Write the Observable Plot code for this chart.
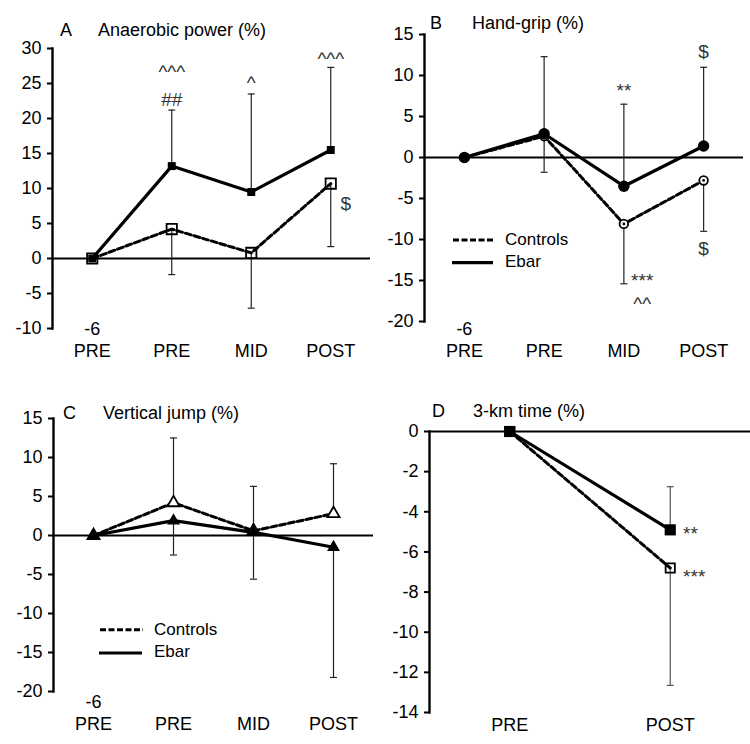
<!DOCTYPE html>
<html><head><meta charset="utf-8">
<script src="https://cdn.jsdelivr.net/npm/d3@7"></script>
<script src="https://cdn.jsdelivr.net/npm/@observablehq/plot@0.6"></script>
<style>
body{margin:0;background:#fff;font-family:"Liberation Sans",Arial,sans-serif;}
#wrap{position:relative;width:750px;height:744px;background:#fff;}
.panel{position:absolute;width:375px;height:372px;}
.panel svg{display:block;}
.overlay{position:absolute;left:0;top:0;pointer-events:none;overflow:visible;}
</style></head><body><div id="wrap"></div>
<script>
// ---------- DATA ----------
const catsFour = ["PRE", "PRE", "MID", "POST"];
const subFour  = ["-6", "", "", ""];
const catsTwo  = ["PRE", "POST"];

// A  Anaerobic power (%)
const powerTicks = [-10, -5, 0, 5, 10, 15, 20, 25, 30];
const powerEbar  = [0, 13.2, 9.5, 15.5];
const powerCtrl  = [0, 4.2, 0.8, 10.7];
const powerErrHi = [null, 21.2, 23.5, 27.3];
const powerErrLo = [null, -2.3, -7.1, 1.7];
const powerNoteText = ["^^^", "##", "^", "^^^", "$"];
const powerNoteX    = [1, 1, 2, 3, 3.19];
const powerNoteY    = [26.6, 22.7, 25.1, 28.5, 7.8];

// B  Hand-grip (%)
const gripTicks = [-20, -15, -10, -5, 0, 5, 10, 15];
const gripEbar  = [0, 2.9, -3.5, 1.4];
const gripCtrl  = [0, 2.6, -8.1, -2.8];
const gripErrHi = [null, 12.3, 6.5, 11.0];
const gripErrLo = [null, -1.8, -15.4, -9.0];
const gripNoteText = ["**", "$", "$", "***", "^^"];
const gripNoteX    = [2, 3, 3, 2.23, 2.23];
const gripNoteY    = [8.1, 12.9, -11.1, -15.1, -17.9];

// C  Vertical jump (%)
const jumpTicks = [-20, -15, -10, -5, 0, 5, 10, 15];
const jumpEbar  = [0, 1.9, 0.4, -1.5];
const jumpCtrl  = [0, 4.2, 0.6, 2.8];
const jumpErrHi = [null, 12.5, 6.3, 9.2];
const jumpErrLo = [null, -2.5, -5.6, -18.2];

// D  3-km time (%)
const timeTicks = [-14, -12, -10, -8, -6, -4, -2, 0];
const timeEbar  = [0, -4.9];
const timeCtrl  = [0, -6.8];
const timeErrHi = [null, -2.75];
const timeErrLo = [null, -12.65];
const timeNoteText = ["**", "***"];
const timeNoteX    = [1.08, 1.08];
const timeNoteY    = [-5.1, -7.22];

// ---------- DRAWING ----------
const FONT = "'Liberation Sans', Arial, sans-serif";
const TICK_FONT = 18, CAT_FONT = 18, TITLE_FONT = 18, LEGEND_FONT = 17, NOTE_FONT = 19;
const capSymbol = {
  draw(ctx, size) {
    const r = Math.sqrt(size / Math.PI);
    ctx.moveTo(-r, 0); ctx.lineTo(r, 0);
  }
};

function makePanel(cfg) {
  const n = cfg.cats.length;
  const idx = d3.range(n);
  const rows = idx.map(i => ({
    i, ebar: cfg.ebar[i], ctrl: cfg.ctrl[i], hi: cfg.errHi[i], lo: cfg.errLo[i],
    top: Math.max(cfg.ebar[i], cfg.ctrl[i]), bot: Math.min(cfg.ebar[i], cfg.ctrl[i])
  }));
  const errRows = rows.filter(d => d.hi != null);
  const ticks = cfg.yTicks;
  const notes = (cfg.noteText || []).map((t, k) => ({t, x: cfg.noteX[k], y: cfg.noteY[k]}));
  const ebarDots = Plot.dot(rows, {x: "i", y: "ebar", symbol: cfg.sym, r: cfg.ebarR, fill: "#000", stroke: "none"});
  const ctrlDots = Plot.dot(rows, {x: "i", y: "ctrl", symbol: cfg.sym, r: cfg.ctrlR, fill: cfg.ctrlFill, stroke: "#000", strokeWidth: 1.8});
  const marks = [
    Plot.ruleY([0], {stroke: "#000", strokeWidth: 2}),
    Plot.frame({anchor: "left", stroke: "#000", strokeWidth: 2.4}),
    Plot.axisY(ticks, {tickSize: 5, tickPadding: 6, fontSize: TICK_FONT, strokeWidth: 2, label: null, fill: "#000", tickFormat: d => String(d)}),
    Plot.axisX(idx, {tickFormat: i => cfg.cats[i], tickSize: 0, tickPadding: cfg.catPad, fontSize: CAT_FONT, label: null, fill: "#000"}),
    Plot.ruleX(errRows, {x: "i", y1: "top", y2: "hi", stroke: cfg.errColor, strokeWidth: 1.2}),
    Plot.ruleX(errRows, {x: "i", y1: "bot", y2: "lo", stroke: cfg.errColor, strokeWidth: 1.2}),
    Plot.dot(errRows, {x: "i", y: "hi", symbol: capSymbol, r: 3.5, stroke: cfg.errColor, strokeWidth: 1.2, fill: "none"}),
    Plot.dot(errRows, {x: "i", y: "lo", symbol: capSymbol, r: 3.5, stroke: cfg.errColor, strokeWidth: 1.2, fill: "none"}),
    Plot.line(rows, {x: "i", y: "ctrl", stroke: "#000", strokeWidth: 3, strokeDasharray: "6,3"}),
    Plot.line(rows, {x: "i", y: "ebar", stroke: "#000", strokeWidth: 3.2}),
    ...(cfg.ebarOnTop ? [ctrlDots, ebarDots] : [ebarDots, ctrlDots])
  ];
  if (cfg.ctrlCenterDot) {
    marks.push(Plot.dot(rows.filter(d => d.i > 1), {x: "i", y: "ctrl", r: 1.4, fill: "#000"}));
  }
  if (cfg.sub) {
    marks.push(Plot.axisX([0], {tickFormat: i => cfg.sub[i], tickSize: 0, tickPadding: cfg.subPad, fontSize: CAT_FONT, label: null, fill: "#000"}));
  }
  if (notes.length) {
    marks.push(Plot.text(notes, {x: "x", y: "y", text: "t", fontSize: NOTE_FONT, fill: "#333", textAnchor: cfg.noteAnchor || "middle"}));
  }
  return Plot.plot({
    width: 375, height: 372,
    marginLeft: cfg.m[0], marginRight: cfg.m[1], marginTop: cfg.m[2], marginBottom: cfg.m[3],
    x: {type: "linear", domain: [-0.5, n - 0.5], label: null},
    y: {domain: [ticks[0], ticks[ticks.length - 1]], label: null},
    style: {fontFamily: FONT, color: "#000", background: "white", overflow: "visible"},
    marks
  });
}

function overlay(letter, title, lx, tx, by, legend) {
  const ns = "http://www.w3.org/2000/svg";
  const svg = document.createElementNS(ns, "svg");
  svg.setAttribute("width", 375); svg.setAttribute("height", 372);
  svg.setAttribute("class", "overlay");
  svg.setAttribute("font-family", FONT);
  let html = `<text x="${lx}" y="${by}" font-size="${TITLE_FONT}">${letter}</text>` +
             `<text x="${tx}" y="${by}" font-size="${TITLE_FONT}">${title}</text>`;
  if (legend) {
    const [x0, x1, y0, y1] = legend;
    html += `<line x1="${x0}" x2="${x1}" y1="${y0}" y2="${y0}" stroke="#000" stroke-width="3" stroke-dasharray="6,2.5"/>` +
            `<text x="${x1 + 11}" y="${y0 + 5}" font-size="${LEGEND_FONT}">Controls</text>` +
            `<line x1="${x0 - 1}" x2="${x1 - 1}" y1="${y1}" y2="${y1}" stroke="#000" stroke-width="3.2"/>` +
            `<text x="${x1 + 11}" y="${y1 + 4}" font-size="${LEGEND_FONT}">Ebar</text>`;
  }
  svg.innerHTML = html;
  return svg;
}

const wrap = document.getElementById("wrap");
function place(node, left, top, ov) {
  const d = document.createElement("div");
  d.className = "panel"; d.style.left = left + "px"; d.style.top = top + "px";
  d.appendChild(node); d.appendChild(ov);
  wrap.appendChild(d);
}

place(makePanel({
  cats: catsFour, sub: subFour, yTicks: powerTicks,
  ebar: powerEbar, ctrl: powerCtrl, errHi: powerErrHi, errLo: powerErrLo,
  noteText: powerNoteText, noteX: powerNoteX, noteY: powerNoteY,
  m: [52, 5, 48, 44], catPad: 15.5, subPad: -6.5,
  sym: "square", ebarR: 4.5, ctrlR: 5.8, ctrlFill: "none", errColor: "#222", ebarOnTop: false
}), 0, 0, overlay("A", "Anaerobic power (%)", 60, 98, 36));

place(makePanel({
  cats: catsFour, sub: subFour, yTicks: gripTicks,
  ebar: gripEbar, ctrl: gripCtrl, errHi: gripErrHi, errLo: gripErrLo,
  noteText: gripNoteText, noteX: gripNoteX, noteY: gripNoteY,
  m: [49, 7, 34, 51], catPad: 23, subPad: 0.8,
  sym: "circle", ebarR: 5.7, ctrlR: 4.3, ctrlFill: "white", ctrlCenterDot: true, errColor: "#222", ebarOnTop: true
}), 375, 0, overlay("B", "Hand-grip (%)", 55, 97, 28.5, [78, 119, 240, 262.7]));

place(makePanel({
  cats: catsFour, sub: subFour, yTicks: jumpTicks,
  ebar: jumpEbar, ctrl: jumpCtrl, errHi: jumpErrHi, errLo: jumpErrLo,
  m: [53, 2, 46, 53], catPad: 25.5, subPad: 3.9,
  sym: "triangle", ebarR: 4.8, ctrlR: 4.5, ctrlFill: "white", errColor: "#222", ebarOnTop: true
}), 0, 372, overlay("C", "Vertical jump (%)", 63, 103, 46.7, [100, 143, 257.7, 281]));

place(makePanel({
  cats: catsTwo, sub: null, yTicks: timeTicks,
  ebar: timeEbar, ctrl: timeCtrl, errHi: timeErrHi, errLo: timeErrLo,
  noteText: timeNoteText, noteX: timeNoteX, noteY: timeNoteY, noteAnchor: "start",
  m: [54, 0, 59, 32], catPad: 5.5,
  sym: "square", ebarR: 6.3, ctrlR: 5.2, ctrlFill: "none", errColor: "#555", ebarOnTop: true
}), 375, 372, overlay("D", "3-km time (%)", 57, 98, 45));
</script></body></html>
